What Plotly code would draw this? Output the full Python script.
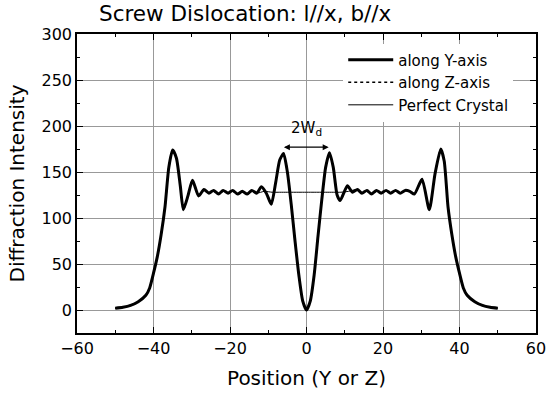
import plotly.graph_objects as go

# Dislocation profile (along Y-axis; along Z-axis identical)
pos = [-50, -48, -46, -44, -42, -41, -40, -39, -38, -37, -36, -35, -34, -33, -32.2, -31, -29.8,
       -28.2, -26.8, -25.5, -24.3, -23, -21.8, -20.5, -19.3, -18, -16.8, -15.5, -14.3, -13,
       -11.8, -10.5, -9.2, -8, -7, -6, -5, -4, -3, -2, -1, 0, 1, 2, 3, 4, 5, 6, 7, 8, 8.8,
       10.7, 12, 13.3, 14.5, 15.8, 17, 18.3, 19.5, 20.8, 22, 23.3, 24.5, 25.8, 27, 28.2,
       30.2, 32.1, 33.6, 35.1, 36, 37, 38, 39, 40, 41, 42, 44, 46, 48, 50]
int_y = [2, 3, 5, 9, 16, 24, 40, 58, 82, 112, 155, 174, 165, 135, 109, 124, 141,
         124, 131, 127, 130, 126, 130, 127, 130, 126, 129, 126, 130, 127,
         134, 127, 115, 140, 163, 170, 150, 115, 75, 38, 10, 0, 10, 38, 80, 120, 155, 171, 155, 125, 119,
         135, 128, 131, 127, 130, 126, 130, 127, 130, 127, 130, 127, 130, 129, 126,
         142, 109, 148, 175, 162, 112, 82, 58, 40, 24, 16, 9, 5, 3, 2]
int_z = list(int_y)

# Perfect crystal profile
pos_p = [-50, -48, -46, -44, -42, -41, -40, -39, -38, -37, -36, -35, -34, -33, -32.2, -31, -29.8,
         -28.2, -26.8, -25.5, -24.3, -23, -21.8, -20.5, -19.3, -18, -16.8, -15.5, -14.3, -13,
         -11, -9, -7, -5, -3, -1, 1, 3, 5, 7, 9, 11,
         13.3, 14.5, 15.8, 17, 18.3, 19.5, 20.8, 22, 23.3, 24.5, 25.8, 27, 28.2,
         30.2, 32.1, 33.6, 35.1, 36, 37, 38, 39, 40, 41, 42, 44, 46, 48, 50]
int_p = [2, 3, 5, 9, 16, 24, 40, 58, 82, 112, 155, 174, 165, 135, 109, 124, 141,
         124, 131, 127, 130, 126, 130, 127, 130, 126, 129, 126, 130, 127,
         129, 128, 128, 128, 128, 128, 128, 128, 128, 128, 128, 129,
         131, 127, 130, 126, 130, 127, 130, 127, 130, 127, 130, 129, 126,
         142, 109, 148, 175, 162, 112, 82, 58, 40, 24, 16, 9, 5, 3, 2]

x_ticks = [-60, -40, -20, 0, 20, 40, 60]
y_ticks = [0, 50, 100, 150, 200, 250, 300]

FONT = "DejaVu Sans"

fig = go.Figure()
fig.add_trace(go.Scatter(x=pos, y=int_y, mode="lines", name="along Y-axis",
                         line=dict(color="black", width=3, shape="spline", smoothing=0.6)))
fig.add_trace(go.Scatter(x=pos, y=int_z, mode="lines", name="along Z-axis",
                         line=dict(color="black", width=1.5, dash="dot", shape="spline", smoothing=0.6)))
fig.add_trace(go.Scatter(x=pos_p, y=int_p, mode="lines", name="Perfect Crystal",
                         line=dict(color="black", width=1, shape="spline", smoothing=0.6)))

fig.add_annotation(x=5.8, y=177, ax=-6.3, ay=177, xref="x", yref="y", axref="x", ayref="y",
                   text="", showarrow=True, arrowhead=2, arrowside="end+start",
                   arrowsize=1, arrowwidth=1.2, arrowcolor="black")
fig.add_annotation(x=0, y=197, xref="x", yref="y", text="2W<sub>d</sub>", showarrow=False,
                   font=dict(size=15, color="black", family=FONT))

axis_common = dict(showline=True, linecolor="black", linewidth=1.5, mirror="ticks",
                   ticks="inside", ticklen=6, tickcolor="black", tickwidth=1,
                   showgrid=True, gridcolor="#999999", gridwidth=1, zeroline=False,
                   automargin=False,
                   tickfont=dict(size=16, color="black", family=FONT))

fig.update_xaxes(range=[-60, 60], tickvals=x_ticks, ticktext=[("\u2212" + str(-v)) if v < 0 else str(v) for v in x_ticks],
                 minor=dict(ticks="inside", ticklen=3, tickcolor="black", dtick=10, showgrid=False),
                 title=dict(text="Position (Y or Z)", font=dict(size=20, color="black", family=FONT), standoff=14),
                 **axis_common)
fig.update_yaxes(range=[-25, 300], tickvals=y_ticks,
                 minor=dict(ticks="inside", ticklen=3, tickcolor="black", dtick=25, tick0=0, showgrid=False),
                 title=dict(text="Diffraction Intensity", font=dict(size=20, color="black", family=FONT), standoff=12),
                 **axis_common)

fig.update_layout(
    width=547, height=394,
    margin=dict(l=77, r=11, t=34, b=61),
    paper_bgcolor="white", plot_bgcolor="white",
    title=dict(text="Screw Dislocation: l//x, b//x", x=99/547, xanchor="left", xref="container",
               y=1 - 13/394, yanchor="middle", yref="container",
               font=dict(size=21.5, color="black", family=FONT)),
    showlegend=True,
    legend=dict(x=0.58, y=0.968, xanchor="left", yanchor="top", bgcolor="rgba(255,255,255,1)",
                borderwidth=0, itemwidth=45,
                font=dict(size=15, color="black", family=FONT), tracegroupgap=0),
    font=dict(family=FONT, color="black"),
)

fig.write_html("out.html")
